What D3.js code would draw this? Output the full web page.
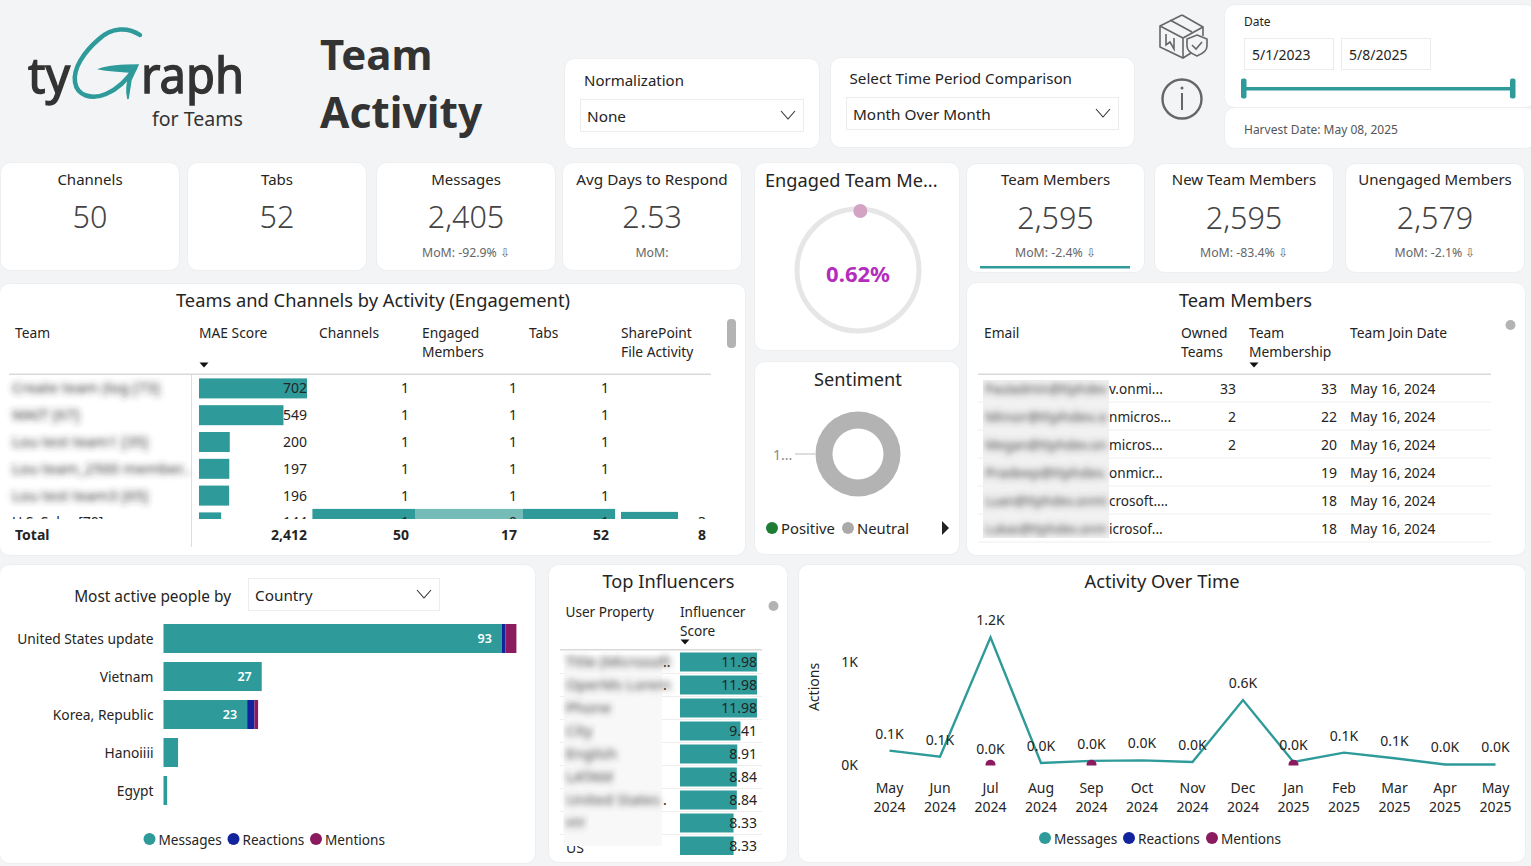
<!DOCTYPE html>
<html>
<head>
<meta charset="utf-8">
<script src="https://cdn.jsdelivr.net/npm/d3@7"></script>
<style>
  body { margin: 0; background: #f3f4f6; overflow: hidden; }
  svg { display: block; font-family: "Noto Sans", sans-serif; }
  text { fill: #252423; }
</style>
</head>
<body>
<div class="chart"></div>
<script>
// KPI cards
var kpiTitles = ["Channels", "Tabs", "Messages", "Avg Days to Respond", "Team Members", "New Team Members", "Unengaged Members"];
var kpiValues = ["50", "52", "2,405", "2.53", "2,595", "2,595", "2,579"];
var kpiDeltas = ["", "", "MoM: -92.9% ⇩", "MoM:", "MoM: -2.4% ⇩", "MoM: -83.4% ⇩", "MoM: -2.1% ⇩"];

// Teams and Channels table
var teamNames = ["Create team (log [73]", "MAIT [67]", "Lou test team1 [35]", "Lou team_2500 member..", "Lou test team3 [65]", "U.S. Sales [70]"];
var maeScores = [702, 549, 200, 197, 196, 144];
var teamChannels = [1, 1, 1, 1, 1, 1];
var teamEngaged = [1, 1, 1, 1, 1, 0];
var teamTabs = [1, 1, 1, 1, 1, 1];
var teamFiles = [null, null, null, null, null, 3];
var teamTotals = ["2,412", "50", "17", "52", "8"];

// Team Members table
var memberHidden = ["Pauladmin@ttphdev", "Minor@ttphdev.o", "Megan@ttphdev.on", "Pradeep@ttphdev.", "Luan@ttphdev.onmi", "Lukas@ttphdev.onm"];
var memberEmails = ["v.onmi...", "nmicros...", "micros...", "onmicr...", "crosoft....", "icrosof..."];
var memberOwned = [33, 2, 2, null, null, null];
var memberShip = [33, 22, 20, 19, 18, 18];
var memberDates = ["May 16, 2024", "May 16, 2024", "May 16, 2024", "May 16, 2024", "May 16, 2024", "May 16, 2024"];

// Most active people
var countries = ["United States update", "Vietnam", "Korea, Republic", "Hanoiiii", "Egypt"];
var countryMessages = [93, 27, 23, 4, 1];
var countryReactions = [1, 0, 2, 0, 0];
var countryMentions = [3, 0, 1, 0, 0];

// Top influencers
var influencerNames = ["Title (Microsoft", "OperMs Lorem", "Phone", "City", "English", "LATAM", "United States", "HY", "US"];
var influencerDots = ["..", ".", "", "", "", "", ".", "", ""];
var influencerScores = [11.98, 11.98, 11.98, 9.41, 8.91, 8.84, 8.84, 8.33, 8.33];

// Activity over time
var months = ["May 2024", "Jun 2024", "Jul 2024", "Aug 2024", "Sep 2024", "Oct 2024", "Nov 2024", "Dec 2024", "Jan 2025", "Feb 2025", "Mar 2025", "Apr 2025", "May 2025"];
var activityMessages = [140, 80, 1240, 20, 40, 45, 30, 630, 30, 120, 65, 5, 5];
var activityMentions = [null, null, 2, null, 2, null, null, null, 2, null, null, null, null];

var engagedPct = 0.62;
var sentimentValues = [0, 1];

var teal = "#2e9a9a", navy = "#12239e", plum = "#8c1a5e";

var svg = d3.select(".chart").append("svg")
    .attr("width", 1531)
    .attr("height", 866);

var defs = svg.append("defs");
defs.append("filter").attr("id", "blur")
    .attr("x", "-10%").attr("y", "-60%").attr("width", "120%").attr("height", "220%")
    .append("feGaussianBlur").attr("stdDeviation", 3);

function clip(id, x, y, w, h) {
    defs.append("clipPath").attr("id", id).append("rect")
        .attr("x", x).attr("y", y).attr("width", w).attr("height", h);
}

function card(x, y, w, h) {
    svg.append("rect")
        .attr("x", x - 0.5).attr("y", y - 0.5)
        .attr("width", w + 1).attr("height", h + 1)
        .attr("rx", 10)
        .attr("fill", "#fff")
        .attr("stroke", "#eceef0");
}

function label(parent, x, y, str, size, anchor, color, weight) {
    return parent.append("text")
        .attr("x", x).attr("y", y)
        .attr("font-size", size)
        .attr("text-anchor", anchor || "start")
        .attr("font-weight", weight || 400)
        .style("fill", color || "#252423")
        .text(str);
}

function chevron(x, y) {
    svg.append("path")
        .attr("d", `M${x - 7},${y - 4}L${x},${y + 4}L${x + 7},${y - 4}`)
        .attr("fill", "none").attr("stroke", "#333").attr("stroke-width", 1.1);
}

function dropdown(x, y, w, h, str) {
    svg.append("rect").attr("x", x + 0.5).attr("y", y + 0.5).attr("width", w).attr("height", h)
        .attr("fill", "#fff").attr("stroke", "#ececec");
    label(svg, x + 7, y + h / 2 + 6.5, str, 15.3);
    chevron(x + w - 15, y + h / 2);
}

function sortArrow(x, y) {
    svg.append("path").attr("d", `M${x - 4.5},${y - 2.5}L${x + 4.5},${y - 2.5}L${x},${y + 2.5}Z`).attr("fill", "#111");
}

function legend(items, y, size) {
    items.forEach(function(d) {
        svg.append("circle").attr("cx", d.x).attr("cy", y).attr("r", 6).attr("fill", d.color);
        label(svg, d.x + 9, y + 5.5, d.name, size);
    });
}

// ---- header ----
var logo = svg.append("g");
label(logo, 28, 93, "ty", 50, "start", "#333").attr("textLength", 42).attr("lengthAdjust", "spacingAndGlyphs")
    .style("stroke", "#333").style("stroke-width", 1.4);
label(logo, 141, 93, "raph", 50, "start", "#333").attr("textLength", 103).attr("lengthAdjust", "spacingAndGlyphs")
    .style("stroke", "#333").style("stroke-width", 1.4);
label(logo, 152, 126, "for Teams", 20, "start", "#333").attr("textLength", 91).attr("lengthAdjust", "spacingAndGlyphs");
logo.append("path")
    .attr("d", "M140,35C128,27 112,27 99,39C84,52 73,68 75,82C77,96 92,100 106,94C118,89 127,80 135,68")
    .attr("fill", "none").attr("stroke", teal).attr("stroke-width", 4.5).attr("stroke-linecap", "round");
logo.append("path")
    .attr("d", "M100,69C112,65 126,65 138,65L131,80L128,99C126,92 127,82 130,72C120,71 110,71 100,69Z")
    .attr("fill", teal).attr("stroke", teal).attr("stroke-width", 1.5);

label(svg, 320, 70, "Team", 42, "start", "#333", 700);
label(svg, 320, 128, "Activity", 42.5, "start", "#333", 700);

card(565, 59, 254, 89);
label(svg, 584, 86, "Normalization", 15);
dropdown(580, 99, 223, 32, "None");

card(831, 58, 303, 89);
label(svg, 849.5, 84, "Select Time Period Comparison", 15.2);
dropdown(846, 97, 272, 32, "Month Over Month");

// package icon
var pkg = svg.append("g").attr("fill", "none").attr("stroke", "#666").attr("stroke-width", 1.6);
pkg.append("path").attr("d", "M1182,15L1203,27L1203,36M1182,15L1160,26L1160,47L1183,58L1191,53M1160,26L1183,38L1203,27M1183,38L1183,58M1170,20L1192,32M1166,34L1166,45L1170,42L1174,49L1174,38");
pkg.append("path").attr("d", "M1197,35L1207,39L1207,46C1207,51 1202,54 1197,56C1192,54 1187,51 1187,46L1187,39Z");
pkg.append("path").attr("d", "M1192,45L1196,49L1202,42");

svg.append("circle").attr("cx", 1182).attr("cy", 99).attr("r", 19.5)
    .attr("fill", "none").attr("stroke", "#666").attr("stroke-width", 2.4);
svg.append("circle").attr("cx", 1182).attr("cy", 88).attr("r", 1.5).attr("fill", "#666");
svg.append("rect").attr("x", 1181).attr("y", 93).attr("width", 2).attr("height", 17).attr("fill", "#666");

card(1225, 5, 310, 102);
card(1225, 108, 310, 40);
label(svg, 1244, 26, "Date", 12);
["5/1/2023", "5/8/2025"].forEach(function(d, i) {
    var bx = 1244 + i * 97;
    svg.append("rect").attr("x", bx + 0.5).attr("y", 38.5).attr("width", 89).attr("height", 31)
        .attr("fill", "#fff").attr("stroke", "#ececec");
    label(svg, bx + 8, 60, d, 14);
});
svg.append("rect").attr("x", 1244).attr("y", 87).attr("width", 268).attr("height", 3.5).attr("fill", teal);
[1241, 1510].forEach(function(hx) {
    svg.append("rect").attr("x", hx).attr("y", 78.5).attr("width", 5.5).attr("height", 20).attr("rx", 2).attr("fill", teal);
});
label(svg, 1244, 134, "Harvest Date: May 08, 2025", 12, "start", "#555");

// ---- KPI cards ----
var kpiBoxes = [[1, 163, 178, 107], [188, 163, 178, 107], [377, 163, 178, 107], [563, 163, 178, 107],
    [967, 164, 177, 108], [1155, 164, 178, 108], [1346, 164, 178, 108]];
kpiTitles.forEach(function(t, i) {
    var b = kpiBoxes[i];
    var cx = b[0] + b[2] / 2;
    card(b[0], b[1], b[2], b[3]);
    label(svg, cx, b[1] + (i < 4 ? 22 : 21), t, i == 3 ? 15.3 : 15, "middle");
    label(svg, cx, b[1] + 65, kpiValues[i], 30.5, "middle", "#444", 300);
    label(svg, cx, b[1] + (i < 4 ? 93.5 : 93), kpiDeltas[i], 12.3, "middle", "#666");
});
svg.append("rect").attr("x", 980).attr("y", 266).attr("width", 150).attr("height", 2.5).attr("fill", teal);

// ---- engaged gauge ----
card(755, 163, 204, 187);
label(svg, 765, 187, "Engaged Team Me...", 18.2);
var gauge = svg.append("g").attr("transform", "translate(858,270)");
var gaugeAngle = d3.scaleLinear().domain([0, 100]).range([0, 2 * Math.PI]);
gauge.append("circle").attr("r", 61).attr("fill", "none").attr("stroke", "#e6e6e6").attr("stroke-width", 5);
gauge.append("circle")
    .attr("cx", 59 * Math.sin(gaugeAngle(engagedPct)))
    .attr("cy", -59 * Math.cos(gaugeAngle(engagedPct)))
    .attr("r", 7).attr("fill", "#d3a3c3");
label(gauge, 0, 12, engagedPct.toFixed(2) + "%", 22, "middle", "#b32dbd", 700);

// ---- sentiment ----
card(755, 362, 204, 192);
label(svg, 858, 386, "Sentiment", 18.2, "middle");
var pie = d3.pie().sort(null);
var donut = d3.arc().innerRadius(25.5).outerRadius(42.5);
svg.append("g").attr("transform", "translate(858,454)")
    .selectAll("path").data(pie(sentimentValues)).enter().append("path")
    .attr("d", donut)
    .attr("fill", (d, i) => i == 0 ? "#1e7d34" : "#b3b3b3");
svg.append("line").attr("x1", 795).attr("x2", 815).attr("y1", 454).attr("y2", 454).attr("stroke", "#bbb");
label(svg, 773, 460, "1...", 14, "start", "#888");
legend([{ x: 772, name: "Positive", color: "#1e7d34" }, { x: 848, name: "Neutral", color: "#aaa" }], 528, 14.8);
svg.append("path").attr("d", "M942,521L949,528L942,535Z").attr("fill", "#222");

// ---- teams and channels table ----
card(0, 284, 745, 271);
label(svg, 373, 307, "Teams and Channels by Activity (Engagement)", 18.3, "middle");
[["Team", 15], ["MAE Score", 199], ["Channels", 319], ["Engaged", 422], ["Tabs", 529], ["SharePoint", 621]].forEach(function(d) {
    label(svg, d[1], 338, d[0], 13.8);
});
label(svg, 422, 357, "Members", 13.8);
label(svg, 621, 357, "File Activity", 13.8);
sortArrow(204, 365);
svg.append("rect").attr("x", 9).attr("y", 373.5).attr("width", 702).attr("height", 1.5).attr("fill", "#d9d9d9");
svg.append("line").attr("x1", 191.5).attr("x2", 191.5).attr("y1", 375).attr("y2", 547).attr("stroke", "#ddd");
svg.append("rect").attr("x", 727).attr("y", 319).attr("width", 9).attr("height", 29).attr("rx", 4).attr("fill", "#b3b3b3");

clip("teamClip", 0, 376, 745, 143);
var teamRows = svg.append("g").attr("clip-path", "url(#teamClip)");
var rowY = d3.scaleBand().domain(d3.range(teamNames.length)).range([375, 375 + 26.8 * 6]);
var maeX = d3.scaleLinear().domain([0, 702]).range([0, 108]);
var cellX = d3.scaleLinear().domain([0, 1]).range([0, 102.6]);
var fileX = d3.scaleLinear().domain([0, 3]).range([0, 57]);

// the half hidden last row has its cell bars under the rows' numbers
var lastTop = rowY(5) + rowY.bandwidth() / 2 - 13.5;
teamRows.append("rect").attr("x", 312.4).attr("y", lastTop).attr("width", cellX(teamChannels[5])).attr("height", 20).attr("fill", teal);
teamRows.append("rect").attr("x", 415).attr("y", lastTop).attr("width", 107.5).attr("height", 20).attr("fill", "#75bcb8");
teamRows.append("rect").attr("x", 522.5).attr("y", lastTop).attr("width", cellX(teamTabs[5]) - 10).attr("height", 20).attr("fill", teal);
teamRows.append("rect").attr("x", 621).attr("y", lastTop + 3).attr("width", fileX(teamFiles[5])).attr("height", 20).attr("fill", teal);

teamNames.forEach(function(name, i) {
    var cy = rowY(i) + rowY.bandwidth() / 2;
    var last = i == teamNames.length - 1;
    var tx = label(teamRows, 12, cy + 5, name, last ? 14 : 15, "start", last ? "#252423" : "#333");
    if (!last) tx.attr("filter", "url(#blur)");
    teamRows.append("rect").attr("x", 199).attr("y", cy - 10).attr("width", maeX(maeScores[i])).attr("height", 20).attr("fill", teal);
    label(teamRows, 307, cy + 5, maeScores[i], 14, "end");
    label(teamRows, 409, cy + 5, teamChannels[i], 14, "end");
    label(teamRows, 517, cy + 5, teamEngaged[i], 14, "end");
    label(teamRows, 609, cy + 5, teamTabs[i], 14, "end");
    if (teamFiles[i] !== null) label(teamRows, 706, cy + 5, teamFiles[i], 14, "end");
});

label(svg, 15, 540, "Total", 14, "start", "#252423", 700);
[307, 409, 517, 609, 706].forEach(function(rx, i) {
    label(svg, rx, 540, teamTotals[i], 14, "end", "#252423", 700);
});

// ---- team members table ----
card(967, 283, 558, 272);
label(svg, 1245.5, 307, "Team Members", 18.3, "middle");
label(svg, 984, 338, "Email", 13.8);
label(svg, 1181, 338, "Owned", 13.8);
label(svg, 1181, 357, "Teams", 13.8);
label(svg, 1249, 338, "Team", 13.8);
label(svg, 1249, 357, "Membership", 13.8);
label(svg, 1350, 338, "Team Join Date", 13.8);
sortArrow(1254, 365);
svg.append("rect").attr("x", 978).attr("y", 373.5).attr("width", 513).attr("height", 1.5).attr("fill", "#d9d9d9");
svg.append("circle").attr("cx", 1510.5).attr("cy", 325).attr("r", 5).attr("fill", "#b3b3b3");

memberEmails.forEach(function(mail, i) {
    var cy = 388.5 + i * 28;
    svg.append("line").attr("x1", 978).attr("x2", 1491).attr("y1", cy + 13.5).attr("y2", cy + 13.5).attr("stroke", "#eeeeee");
    label(svg, 1109, cy + 5, mail, 13.6);
    if (memberOwned[i] !== null) label(svg, 1236, cy + 5, memberOwned[i], 14, "end");
    label(svg, 1337, cy + 5, memberShip[i], 14, "end");
    label(svg, 1350, cy + 5, memberDates[i], 13.8);
});
clip("mailClip", 983, 380, 126, 158);
var mailBox = svg.append("g").attr("clip-path", "url(#mailClip)");
mailBox.append("rect").attr("x", 983).attr("y", 380).attr("width", 126).attr("height", 158).attr("fill", "#f1f1f1");
memberHidden.forEach(function(name, i) {
    label(mailBox, 985, 393.5 + i * 28, name, 15, "start", "#444")
        .attr("textLength", 122).attr("lengthAdjust", "spacingAndGlyphs")
        .attr("filter", "url(#blur)");
});

// ---- most active people ----
card(0, 565, 535, 298);
label(svg, 231, 601.5, "Most active people by", 15.4, "end");
dropdown(248, 578, 191, 32, "Country");

var barY = d3.scaleBand().domain(countries).range([619.5, 809.5]).paddingInner(0.237).paddingOuter(0.118);
var barX = d3.scaleLinear().domain([0, 97]).range([163.5, 516.4]);
var axisY = svg.append("g")
    .attr("transform", "translate(163.5,1)")
    .call(d3.axisLeft(barY).tickSize(0).tickPadding(10));
axisY.select(".domain").remove();
axisY.selectAll("text").attr("font-size", 13.8).attr("font-family", '"Noto Sans", sans-serif').style("fill", "#252423");

countries.forEach(function(c, i) {
    var m = countryMessages[i], r = countryReactions[i], n = countryMentions[i];
    [[0, m, teal], [m, m + r, navy], [m + r, m + r + n, plum]].forEach(function(s) {
        if (s[1] > s[0]) {
            svg.append("rect").attr("x", barX(s[0])).attr("y", barY(c))
                .attr("width", barX(s[1]) - barX(s[0])).attr("height", barY.bandwidth()).attr("fill", s[2]);
        }
    });
    if (m > 10) {
        label(svg, barX(m) - 10, barY(c) + barY.bandwidth() / 2 + 4.5, m, 12.5, "end", "#fff", 600);
    }
});
legend([{ x: 149.5, name: "Messages", color: teal }, { x: 233.5, name: "Reactions", color: navy }, { x: 316, name: "Mentions", color: plum }], 839, 13.6);

// ---- top influencers ----
card(549, 565, 238, 297);
label(svg, 668.5, 588, "Top Influencers", 18.2, "middle");
label(svg, 565.5, 617, "User Property", 13.6);
label(svg, 680, 617, "Influencer", 13.6);
label(svg, 680, 636, "Score", 13.6);
sortArrow(685, 642);
svg.append("rect").attr("x", 560).attr("y", 649).attr("width", 202).attr("height", 1.5).attr("fill", "#d9d9d9");
svg.append("circle").attr("cx", 773.5).attr("cy", 606).attr("r", 5).attr("fill", "#b3b3b3");

clip("inflClip", 549, 651, 238, 204);
var inflRows = svg.append("g").attr("clip-path", "url(#inflClip)");
var inflY = d3.scaleBand().domain(d3.range(influencerScores.length)).range([650.5, 650.5 + 23 * 9]);
var inflX = d3.scaleLinear().domain([0, 11.98]).range([0, 77]);
influencerScores.forEach(function(score, i) {
    var cy = inflY(i) + inflY.bandwidth() / 2;
    if (i < 8) inflRows.append("line").attr("x1", 560).attr("x2", 762).attr("y1", cy + 11.5).attr("y2", cy + 11.5).attr("stroke", "#eeeeee");
    inflRows.append("rect").attr("x", 680).attr("y", cy - 9.5).attr("width", inflX(score)).attr("height", 19).attr("fill", teal);
    label(inflRows, 757, cy + 5, score.toFixed(2), 14, "end");
    label(inflRows, 663, cy + 5, influencerDots[i], 14);
    if (i == 8) label(inflRows, 566, cy + 7, influencerNames[i], 14);
});
inflRows.append("rect").attr("x", 564).attr("y", 655).attr("width", 98).attr("height", 191).attr("fill", "#f8f8f8");
influencerNames.slice(0, 8).forEach(function(name, i) {
    var cy = inflY(i) + inflY.bandwidth() / 2;
    label(inflRows, 566, cy + 5, name, 15, "start", "#444").attr("filter", "url(#blur)");
});

// ---- activity over time ----
card(799, 565, 726, 297);
label(svg, 1162, 588, "Activity Over Time", 18.3, "middle");

var lineX = d3.scalePoint().domain(months).range([889.5, 1495.5]);
var lineY = d3.scaleLinear().domain([0, 1000]).range([765, 662]);

var yAxis = svg.append("g")
    .attr("transform", "translate(869,0)")
    .call(d3.axisLeft(lineY).tickValues([0, 1000]).tickSize(0).tickPadding(11).tickFormat(d => (d / 1000) + "K"));
yAxis.select(".domain").remove();
yAxis.selectAll("text").attr("font-size", 14).attr("font-family", '"Noto Sans", sans-serif').style("fill", "#252423");

var xAxis = svg.append("g")
    .attr("transform", "translate(-0.5,780)")
    .call(d3.axisBottom(lineX).tickSize(0).tickPadding(0));
xAxis.select(".domain").remove();
xAxis.selectAll("text").each(function(d) {
    var parts = d.split(" ");
    var t = d3.select(this).text(null).attr("font-size", 14).attr("font-family", '"Noto Sans", sans-serif').style("fill", "#252423");
    t.append("tspan").attr("x", 0).attr("dy", "0.96em").text(parts[0]);
    t.append("tspan").attr("x", 0).attr("dy", "1.36em").text(parts[1]);
});

label(svg, 0, 0, "Actions", 14, "middle").attr("transform", "translate(819,687) rotate(-90)");

var line = d3.line()
    .x((d, i) => lineX(months[i]))
    .y(d => lineY(d));
svg.append("path").datum(activityMessages)
    .attr("d", line)
    .attr("fill", "none").attr("stroke", teal).attr("stroke-width", 2.4);

clip("plotClip", 860, 600, 660, 165.5);
months.forEach(function(m, i) {
    if (activityMentions[i] !== null) {
        svg.append("circle").attr("clip-path", "url(#plotClip)")
            .attr("cx", lineX(m)).attr("cy", lineY(activityMentions[i])).attr("r", 5).attr("fill", plum);
    }
});

activityMessages.forEach(function(v, i) {
    label(svg, lineX(months[i]), lineY(v) - 12, (v / 1000).toFixed(1) + "K", 14, "middle");
});
label(svg, lineX("Jul 2024"), lineY(activityMentions[2]) - 11, "0.0K", 14, "middle");

legend([{ x: 1045, name: "Messages", color: teal }, { x: 1129, name: "Reactions", color: navy }, { x: 1212, name: "Mentions", color: plum }], 838, 13.6);
</script>
</body>
</html>
